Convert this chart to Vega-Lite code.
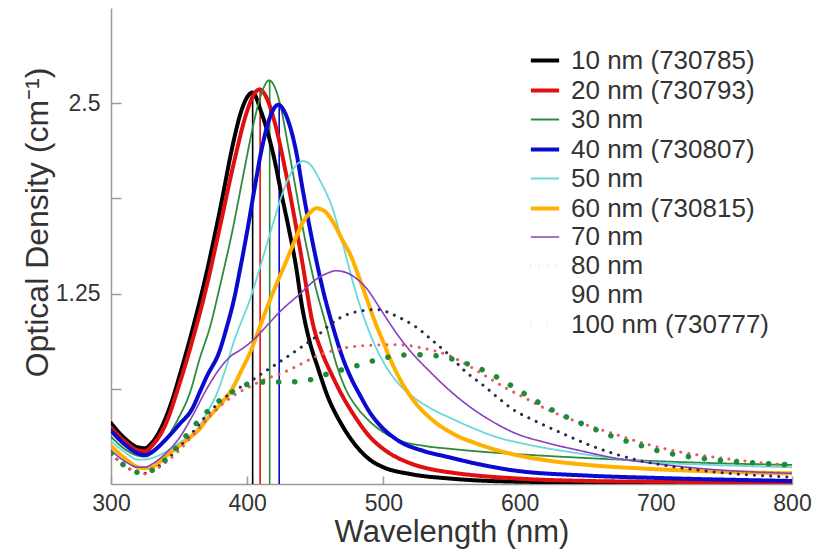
{
  "$schema": "https://vega.github.io/schema/vega-lite/v6.json",
  "width": 681,
  "height": 476,
  "autosize": {"type": "none"},
  "padding": {"left": 111, "top": 8, "right": 27, "bottom": 72},
  "background": "white",
  "config": {
    "view": {"stroke": null},
    "font": "Liberation Sans",
    "axis": {"labelFont": "Liberation Sans", "titleFont": "Liberation Sans", "labelColor": "#333333", "titleColor": "#333333", "domainColor": "#9a9a9a", "tickColor": "#9a9a9a", "titleFontWeight": "normal", "grid": false}
  },
  "datasets": {
    "spectra": [
      {"s":"10 nm (730785)","w":300,"od":0.40},{"s":"10 nm (730785)","w":310,"od":0.30},{"s":"10 nm (730785)","w":320,"od":0.24},{"s":"10 nm (730785)","w":325,"od":0.235},{"s":"10 nm (730785)","w":330,"od":0.27},{"s":"10 nm (730785)","w":340,"od":0.43},{"s":"10 nm (730785)","w":346,"od":0.58},{"s":"10 nm (730785)","w":350,"od":0.70},{"s":"10 nm (730785)","w":360,"od":1.02},{"s":"10 nm (730785)","w":370,"od":1.38},{"s":"10 nm (730785)","w":380,"od":1.80},{"s":"10 nm (730785)","w":390,"od":2.25},{"s":"10 nm (730785)","w":395,"od":2.43},{"s":"10 nm (730785)","w":400,"od":2.54},{"s":"10 nm (730785)","w":404,"od":2.57},{"s":"10 nm (730785)","w":410,"od":2.45},{"s":"10 nm (730785)","w":420,"od":2.13},{"s":"10 nm (730785)","w":425,"od":1.91},{"s":"10 nm (730785)","w":430,"od":1.70},{"s":"10 nm (730785)","w":436,"od":1.42},{"s":"10 nm (730785)","w":440,"od":1.18},{"s":"10 nm (730785)","w":446,"od":0.93},{"s":"10 nm (730785)","w":452,"od":0.76},{"s":"10 nm (730785)","w":458,"od":0.60},{"s":"10 nm (730785)","w":470,"od":0.38},{"s":"10 nm (730785)","w":480,"od":0.25},{"s":"10 nm (730785)","w":490,"od":0.16},{"s":"10 nm (730785)","w":500,"od":0.11},{"s":"10 nm (730785)","w":520,"od":0.065},{"s":"10 nm (730785)","w":550,"od":0.035},{"s":"10 nm (730785)","w":600,"od":0.015},{"s":"10 nm (730785)","w":700,"od":0.008},{"s":"10 nm (730785)","w":800,"od":0.005},

      {"s":"20 nm (730793)","w":300,"od":0.37},{"s":"20 nm (730793)","w":310,"od":0.28},{"s":"20 nm (730793)","w":320,"od":0.22},{"s":"20 nm (730793)","w":325,"od":0.215},{"s":"20 nm (730793)","w":330,"od":0.25},{"s":"20 nm (730793)","w":340,"od":0.39},{"s":"20 nm (730793)","w":350,"od":0.65},{"s":"20 nm (730793)","w":360,"od":0.95},{"s":"20 nm (730793)","w":370,"od":1.29},{"s":"20 nm (730793)","w":380,"od":1.69},{"s":"20 nm (730793)","w":390,"od":2.10},{"s":"20 nm (730793)","w":400,"od":2.45},{"s":"20 nm (730793)","w":405,"od":2.56},{"s":"20 nm (730793)","w":409,"od":2.59},{"s":"20 nm (730793)","w":415,"od":2.52},{"s":"20 nm (730793)","w":420,"od":2.38},{"s":"20 nm (730793)","w":430,"od":1.97},{"s":"20 nm (730793)","w":440,"od":1.48},{"s":"20 nm (730793)","w":448,"od":1.06},{"s":"20 nm (730793)","w":455,"od":0.86},{"s":"20 nm (730793)","w":462,"od":0.72},{"s":"20 nm (730793)","w":468,"od":0.61},{"s":"20 nm (730793)","w":480,"od":0.43},{"s":"20 nm (730793)","w":490,"od":0.31},{"s":"20 nm (730793)","w":500,"od":0.23},{"s":"20 nm (730793)","w":520,"od":0.135},{"s":"20 nm (730793)","w":536,"od":0.095},{"s":"20 nm (730793)","w":550,"od":0.075},{"s":"20 nm (730793)","w":600,"od":0.035},{"s":"20 nm (730793)","w":650,"od":0.02},{"s":"20 nm (730793)","w":700,"od":0.015},{"s":"20 nm (730793)","w":800,"od":0.01},

      {"s":"30 nm","w":300,"od":0.31},{"s":"30 nm","w":310,"od":0.23},{"s":"30 nm","w":320,"od":0.185},{"s":"30 nm","w":325,"od":0.18},{"s":"30 nm","w":330,"od":0.20},{"s":"30 nm","w":340,"od":0.29},{"s":"30 nm","w":350,"od":0.44},{"s":"30 nm","w":358,"od":0.60},{"s":"30 nm","w":365,"od":0.82},{"s":"30 nm","w":373,"od":1.04},{"s":"30 nm","w":380,"od":1.30},{"s":"30 nm","w":390,"od":1.70},{"s":"30 nm","w":395,"od":1.93},{"s":"30 nm","w":400,"od":2.16},{"s":"30 nm","w":405,"od":2.38},{"s":"30 nm","w":410,"od":2.55},{"s":"30 nm","w":416,"od":2.65},{"s":"30 nm","w":420,"od":2.61},{"s":"30 nm","w":425,"od":2.46},{"s":"30 nm","w":430,"od":2.22},{"s":"30 nm","w":436,"od":1.92},{"s":"30 nm","w":440,"od":1.72},{"s":"30 nm","w":450,"od":1.30},{"s":"30 nm","w":458,"od":1.04},{"s":"30 nm","w":465,"od":0.80},{"s":"30 nm","w":473,"od":0.61},{"s":"30 nm","w":480,"od":0.51},{"s":"30 nm","w":490,"od":0.41},{"s":"30 nm","w":500,"od":0.34},{"s":"30 nm","w":512,"od":0.285},{"s":"30 nm","w":530,"od":0.25},{"s":"30 nm","w":550,"od":0.23},{"s":"30 nm","w":575,"od":0.21},{"s":"30 nm","w":600,"od":0.195},{"s":"30 nm","w":650,"od":0.17},{"s":"30 nm","w":700,"od":0.15},{"s":"30 nm","w":750,"od":0.135},{"s":"30 nm","w":800,"od":0.125},

      {"s":"40 nm (730807)","w":300,"od":0.35},{"s":"40 nm (730807)","w":310,"od":0.26},{"s":"40 nm (730807)","w":320,"od":0.20},{"s":"40 nm (730807)","w":325,"od":0.19},{"s":"40 nm (730807)","w":330,"od":0.21},{"s":"40 nm (730807)","w":340,"od":0.29},{"s":"40 nm (730807)","w":350,"od":0.39},{"s":"40 nm (730807)","w":360,"od":0.50},{"s":"40 nm (730807)","w":365,"od":0.60},{"s":"40 nm (730807)","w":370,"od":0.70},{"s":"40 nm (730807)","w":380,"od":0.88},{"s":"40 nm (730807)","w":385,"od":1.03},{"s":"40 nm (730807)","w":390,"od":1.20},{"s":"40 nm (730807)","w":395,"od":1.42},{"s":"40 nm (730807)","w":400,"od":1.66},{"s":"40 nm (730807)","w":405,"od":1.92},{"s":"40 nm (730807)","w":410,"od":2.17},{"s":"40 nm (730807)","w":415,"od":2.36},{"s":"40 nm (730807)","w":420,"od":2.47},{"s":"40 nm (730807)","w":423,"od":2.49},{"s":"40 nm (730807)","w":427,"od":2.45},{"s":"40 nm (730807)","w":431,"od":2.36},{"s":"40 nm (730807)","w":436,"od":2.18},{"s":"40 nm (730807)","w":441,"od":1.92},{"s":"40 nm (730807)","w":450,"od":1.50},{"s":"40 nm (730807)","w":456,"od":1.26},{"s":"40 nm (730807)","w":463,"od":1.03},{"s":"40 nm (730807)","w":470,"od":0.83},{"s":"40 nm (730807)","w":476,"od":0.70},{"s":"40 nm (730807)","w":483,"od":0.58},{"s":"40 nm (730807)","w":490,"od":0.47},{"s":"40 nm (730807)","w":497,"od":0.39},{"s":"40 nm (730807)","w":510,"od":0.29},{"s":"40 nm (730807)","w":530,"od":0.215},{"s":"40 nm (730807)","w":546,"od":0.18},{"s":"40 nm (730807)","w":570,"od":0.13},{"s":"40 nm (730807)","w":595,"od":0.09},{"s":"40 nm (730807)","w":650,"od":0.055},{"s":"40 nm (730807)","w":700,"od":0.04},{"s":"40 nm (730807)","w":800,"od":0.02},

      {"s":"50 nm","w":300,"od":0.28},{"s":"50 nm","w":310,"od":0.21},{"s":"50 nm","w":320,"od":0.16},{"s":"50 nm","w":325,"od":0.16},{"s":"50 nm","w":330,"od":0.17},{"s":"50 nm","w":340,"od":0.21},{"s":"50 nm","w":350,"od":0.27},{"s":"50 nm","w":360,"od":0.33},{"s":"50 nm","w":365,"od":0.38},{"s":"50 nm","w":370,"od":0.46},{"s":"50 nm","w":378,"od":0.60},{"s":"50 nm","w":385,"od":0.78},{"s":"50 nm","w":390,"od":0.93},{"s":"50 nm","w":395,"od":1.05},{"s":"50 nm","w":402,"od":1.21},{"s":"50 nm","w":408,"od":1.38},{"s":"50 nm","w":414,"od":1.56},{"s":"50 nm","w":420,"od":1.74},{"s":"50 nm","w":426,"od":1.91},{"s":"50 nm","w":434,"od":2.07},{"s":"50 nm","w":441,"od":2.12},{"s":"50 nm","w":447,"od":2.09},{"s":"50 nm","w":453,"od":2.00},{"s":"50 nm","w":463,"od":1.80},{"s":"50 nm","w":470,"od":1.58},{"s":"50 nm","w":480,"od":1.25},{"s":"50 nm","w":490,"od":0.99},{"s":"50 nm","w":500,"od":0.80},{"s":"50 nm","w":510,"od":0.67},{"s":"50 nm","w":520,"od":0.585},{"s":"50 nm","w":536,"od":0.49},{"s":"50 nm","w":550,"od":0.43},{"s":"50 nm","w":561,"od":0.385},{"s":"50 nm","w":586,"od":0.30},{"s":"50 nm","w":600,"od":0.27},{"s":"50 nm","w":644,"od":0.20},{"s":"50 nm","w":694,"od":0.145},{"s":"50 nm","w":742,"od":0.125},{"s":"50 nm","w":800,"od":0.11},

      {"s":"60 nm (730815)","w":300,"od":0.25},{"s":"60 nm (730815)","w":310,"od":0.17},{"s":"60 nm (730815)","w":320,"od":0.11},{"s":"60 nm (730815)","w":325,"od":0.105},{"s":"60 nm (730815)","w":330,"od":0.11},{"s":"60 nm (730815)","w":340,"od":0.18},{"s":"60 nm (730815)","w":350,"od":0.25},{"s":"60 nm (730815)","w":360,"od":0.32},{"s":"60 nm (730815)","w":365,"od":0.36},{"s":"60 nm (730815)","w":370,"od":0.42},{"s":"60 nm (730815)","w":380,"od":0.52},{"s":"60 nm (730815)","w":390,"od":0.64},{"s":"60 nm (730815)","w":396,"od":0.75},{"s":"60 nm (730815)","w":402,"od":0.86},{"s":"60 nm (730815)","w":408,"od":1.00},{"s":"60 nm (730815)","w":414,"od":1.145},{"s":"60 nm (730815)","w":420,"od":1.28},{"s":"60 nm (730815)","w":429,"od":1.47},{"s":"60 nm (730815)","w":435,"od":1.60},{"s":"60 nm (730815)","w":441,"od":1.72},{"s":"60 nm (730815)","w":446,"od":1.78},{"s":"60 nm (730815)","w":451,"od":1.81},{"s":"60 nm (730815)","w":457,"od":1.79},{"s":"60 nm (730815)","w":463,"od":1.72},{"s":"60 nm (730815)","w":470,"od":1.60},{"s":"60 nm (730815)","w":476,"od":1.50},{"s":"60 nm (730815)","w":482,"od":1.36},{"s":"60 nm (730815)","w":488,"od":1.21},{"s":"60 nm (730815)","w":494,"od":1.06},{"s":"60 nm (730815)","w":500,"od":0.93},{"s":"60 nm (730815)","w":506,"od":0.80},{"s":"60 nm (730815)","w":512,"od":0.69},{"s":"60 nm (730815)","w":522,"od":0.55},{"s":"60 nm (730815)","w":536,"od":0.42},{"s":"60 nm (730815)","w":550,"od":0.335},{"s":"60 nm (730815)","w":570,"od":0.26},{"s":"60 nm (730815)","w":595,"od":0.195},{"s":"60 nm (730815)","w":620,"od":0.155},{"s":"60 nm (730815)","w":650,"od":0.125},{"s":"60 nm (730815)","w":694,"od":0.10},{"s":"60 nm (730815)","w":750,"od":0.08},{"s":"60 nm (730815)","w":800,"od":0.07},

      {"s":"70 nm","w":300,"od":0.22},{"s":"70 nm","w":310,"od":0.15},{"s":"70 nm","w":320,"od":0.11},{"s":"70 nm","w":325,"od":0.11},{"s":"70 nm","w":330,"od":0.13},{"s":"70 nm","w":340,"od":0.20},{"s":"70 nm","w":350,"od":0.30},{"s":"70 nm","w":360,"od":0.45},{"s":"70 nm","w":370,"od":0.62},{"s":"70 nm","w":380,"od":0.76},{"s":"70 nm","w":388,"od":0.84},{"s":"70 nm","w":395,"od":0.88},{"s":"70 nm","w":405,"od":0.95},{"s":"70 nm","w":414,"od":1.035},{"s":"70 nm","w":425,"od":1.14},{"s":"70 nm","w":439,"od":1.25},{"s":"70 nm","w":450,"od":1.34},{"s":"70 nm","w":458,"od":1.38},{"s":"70 nm","w":465,"od":1.40},{"s":"70 nm","w":472,"od":1.39},{"s":"70 nm","w":480,"od":1.35},{"s":"70 nm","w":488,"od":1.28},{"s":"70 nm","w":497,"od":1.16},{"s":"70 nm","w":505,"od":1.05},{"s":"70 nm","w":512,"od":0.96},{"s":"70 nm","w":522,"od":0.85},{"s":"70 nm","w":535,"od":0.73},{"s":"70 nm","w":546,"od":0.635},{"s":"70 nm","w":560,"od":0.53},{"s":"70 nm","w":571,"od":0.46},{"s":"70 nm","w":585,"od":0.385},{"s":"70 nm","w":595,"od":0.34},{"s":"70 nm","w":620,"od":0.27},{"s":"70 nm","w":644,"od":0.22},{"s":"70 nm","w":670,"od":0.17},{"s":"70 nm","w":694,"od":0.14},{"s":"70 nm","w":742,"od":0.095},{"s":"70 nm","w":800,"od":0.07},

      {"s":"80 nm","w":300,"od":0.20},{"s":"80 nm","w":310,"od":0.12},{"s":"80 nm","w":320,"od":0.075},{"s":"80 nm","w":325,"od":0.07},{"s":"80 nm","w":330,"od":0.09},{"s":"80 nm","w":340,"od":0.15},{"s":"80 nm","w":350,"od":0.24},{"s":"80 nm","w":360,"od":0.34},{"s":"80 nm","w":370,"od":0.45},{"s":"80 nm","w":380,"od":0.54},{"s":"80 nm","w":390,"od":0.61},{"s":"80 nm","w":400,"od":0.66},{"s":"80 nm","w":410,"od":0.72},{"s":"80 nm","w":426,"od":0.815},{"s":"80 nm","w":440,"od":0.90},{"s":"80 nm","w":451,"od":0.97},{"s":"80 nm","w":460,"od":1.04},{"s":"80 nm","w":468,"od":1.09},{"s":"80 nm","w":480,"od":1.13},{"s":"80 nm","w":495,"od":1.145},{"s":"80 nm","w":510,"od":1.10},{"s":"80 nm","w":524,"od":1.03},{"s":"80 nm","w":535,"od":0.95},{"s":"80 nm","w":549,"od":0.84},{"s":"80 nm","w":560,"od":0.74},{"s":"80 nm","w":573,"od":0.65},{"s":"80 nm","w":585,"od":0.56},{"s":"80 nm","w":595,"od":0.49},{"s":"80 nm","w":610,"od":0.42},{"s":"80 nm","w":632,"od":0.33},{"s":"80 nm","w":650,"od":0.26},{"s":"80 nm","w":669,"od":0.20},{"s":"80 nm","w":690,"od":0.15},{"s":"80 nm","w":705,"od":0.125},{"s":"80 nm","w":742,"od":0.08},{"s":"80 nm","w":800,"od":0.045},

      {"s":"90 nm","w":300,"od":0.20},{"s":"90 nm","w":310,"od":0.12},{"s":"90 nm","w":320,"od":0.07},{"s":"90 nm","w":325,"od":0.065},{"s":"90 nm","w":330,"od":0.08},{"s":"90 nm","w":340,"od":0.14},{"s":"90 nm","w":350,"od":0.22},{"s":"90 nm","w":360,"od":0.32},{"s":"90 nm","w":370,"od":0.42},{"s":"90 nm","w":380,"od":0.51},{"s":"90 nm","w":390,"od":0.58},{"s":"90 nm","w":402,"od":0.64},{"s":"90 nm","w":414,"od":0.69},{"s":"90 nm","w":426,"od":0.73},{"s":"90 nm","w":440,"od":0.79},{"s":"90 nm","w":451,"od":0.84},{"s":"90 nm","w":463,"od":0.875},{"s":"90 nm","w":476,"od":0.90},{"s":"90 nm","w":490,"od":0.91},{"s":"90 nm","w":510,"od":0.915},{"s":"90 nm","w":530,"od":0.89},{"s":"90 nm","w":549,"od":0.84},{"s":"90 nm","w":560,"od":0.79},{"s":"90 nm","w":573,"od":0.72},{"s":"90 nm","w":590,"od":0.63},{"s":"90 nm","w":605,"od":0.56},{"s":"90 nm","w":620,"od":0.49},{"s":"90 nm","w":645,"od":0.40},{"s":"90 nm","w":669,"od":0.33},{"s":"90 nm","w":690,"od":0.27},{"s":"90 nm","w":718,"od":0.21},{"s":"90 nm","w":740,"od":0.18},{"s":"90 nm","w":767,"od":0.15},{"s":"90 nm","w":800,"od":0.12},

      {"s":"100 nm (730777)","w":300,"od":0.20},{"s":"100 nm (730777)","w":310,"od":0.12},{"s":"100 nm (730777)","w":320,"od":0.075},{"s":"100 nm (730777)","w":325,"od":0.07},{"s":"100 nm (730777)","w":330,"od":0.09},{"s":"100 nm (730777)","w":340,"od":0.16},{"s":"100 nm (730777)","w":350,"od":0.26},{"s":"100 nm (730777)","w":360,"od":0.37},{"s":"100 nm (730777)","w":370,"od":0.47},{"s":"100 nm (730777)","w":380,"od":0.55},{"s":"100 nm (730777)","w":390,"od":0.61},{"s":"100 nm (730777)","w":402,"od":0.66},{"s":"100 nm (730777)","w":414,"od":0.67},{"s":"100 nm (730777)","w":429,"od":0.67},{"s":"100 nm (730777)","w":444,"od":0.68},{"s":"100 nm (730777)","w":458,"od":0.72},{"s":"100 nm (730777)","w":478,"od":0.77},{"s":"100 nm (730777)","w":502,"od":0.83},{"s":"100 nm (730777)","w":522,"od":0.85},{"s":"100 nm (730777)","w":540,"od":0.84},{"s":"100 nm (730777)","w":558,"od":0.80},{"s":"100 nm (730777)","w":575,"od":0.74},{"s":"100 nm (730777)","w":595,"od":0.64},{"s":"100 nm (730777)","w":615,"od":0.53},{"s":"100 nm (730777)","w":632,"od":0.45},{"s":"100 nm (730777)","w":650,"od":0.38},{"s":"100 nm (730777)","w":669,"od":0.31},{"s":"100 nm (730777)","w":690,"od":0.25},{"s":"100 nm (730777)","w":705,"od":0.21},{"s":"100 nm (730777)","w":720,"od":0.185},{"s":"100 nm (730777)","w":742,"od":0.16},{"s":"100 nm (730777)","w":770,"od":0.14},{"s":"100 nm (730777)","w":800,"od":0.125}
    ],
    "peaks": [
      {"s":"10 nm (730785)","w":404,"od":2.57},
      {"s":"20 nm (730793)","w":409.5,"od":2.59},
      {"s":"30 nm","w":416.5,"od":2.65},
      {"s":"40 nm (730807)","w":423.5,"od":2.49}
    ]
  },
  "layer": [
    {
      "data": {"name": "peaks"},
      "mark": {"type": "rule", "strokeWidth": 1.6},
      "encoding": {
        "x": {"field": "w", "type": "quantitative"},
        "y": {"field": "od", "type": "quantitative"},
        "y2": {"datum": 0},
        "color": {"field": "s", "type": "nominal"}
      }
    },
    {
      "data": {"name": "spectra"},
      "mark": {"type": "line", "interpolate": "monotone", "strokeCap": "round", "clip": true},
      "encoding": {
        "x": {
          "field": "w", "type": "quantitative",
          "scale": {"domain": [300, 800], "nice": false, "zero": false},
          "axis": {"title": "Wavelength (nm)", "values": [300, 400, 500, 600, 700, 800], "tickSize": -8, "labelPadding": 16, "labelFontSize": 23, "titleFontSize": 31, "titlePadding": 2, "labelFlush": false, "domainWidth": 1.5, "tickWidth": 1.5}
        },
        "y": {
          "field": "od", "type": "quantitative",
          "scale": {"domain": [0, 3.125], "nice": false, "zero": true},
          "axis": {"title": "Optical Density (cm⁻¹)", "values": [0.625, 1.25, 1.875, 2.5], "labelExpr": "datum.value == 2.5 ? '2.5' : (datum.value == 1.25 ? '1.25' : '')", "tickSize": -10, "labelPadding": 21, "labelFontSize": 23, "titleFontSize": 32, "titleX": -74, "titleY": 214, "titleBaseline": "middle", "titleAlign": "center", "titleAngle": -90, "domainWidth": 1.5, "tickWidth": 1.5}
        },
        "color": {
          "field": "s", "type": "nominal",
          "scale": {
            "domain": ["10 nm (730785)", "20 nm (730793)", "30 nm", "40 nm (730807)", "50 nm", "60 nm (730815)", "70 nm", "80 nm", "90 nm", "100 nm (730777)"],
            "range": ["#000000", "#e01010", "#2e8b3c", "#0a0ad0", "#6ad8d8", "#ffb000", "#8a3fc0", "#2a2a4a", "#e06060", "#1f8a3a"]
          },
          "legend": {"title": null, "orient": "none", "legendX": 417, "legendY": 36, "symbolType": "stroke", "symbolSize": 800, "labelFontSize": 26, "labelLimit": 0, "labelColor": "#333333", "labelFont": "Liberation Sans", "rowPadding": -1, "labelOffset": 9, "padding": 0}
        },
        "strokeDash": {
          "field": "s", "type": "nominal",
          "scale": {
            "domain": ["10 nm (730785)", "20 nm (730793)", "30 nm", "40 nm (730807)", "50 nm", "60 nm (730815)", "70 nm", "80 nm", "90 nm", "100 nm (730777)"],
            "range": [[1, 0], [1, 0], [1, 0], [1, 0], [1, 0], [1, 0], [1, 0], [0.1, 8], [0.1, 8], [0.1, 16]]
          },
          "legend": {"title": null}
        },
        "strokeWidth": {
          "field": "s", "type": "nominal",
          "scale": {
            "type": "ordinal",
            "domain": ["10 nm (730785)", "20 nm (730793)", "30 nm", "40 nm (730807)", "50 nm", "60 nm (730815)", "70 nm", "80 nm", "90 nm", "100 nm (730777)"],
            "range": [4, 4, 1.8, 4, 1.8, 4, 1.6, 3, 3, 5.5]
          },
          "legend": {"title": null}
        },
        "order": {"field": "w", "type": "quantitative"}
      }
    }
  ]
}
